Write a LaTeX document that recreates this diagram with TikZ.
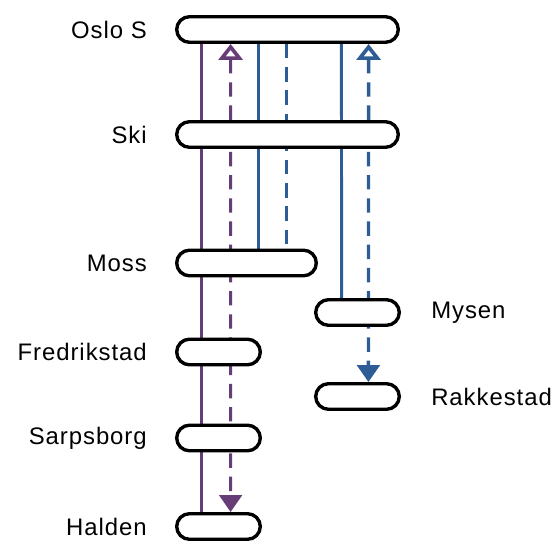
\documentclass[tikz,border=0pt]{standalone}
\usepackage{fontspec}
\setmainfont{Liberation Sans}[LetterSpace=4]
\usepackage{tikz}
\usetikzlibrary{arrows.meta}
\usetikzlibrary{positioning}
\pgfdeclarelayer{edgelayer}
\pgfdeclarelayer{nodelayer}
\pgfsetlayers{edgelayer,nodelayer,main}
\definecolor{linepurple}{RGB}{102,61,118}
\definecolor{lineblue}{RGB}{46,93,150}
\tikzstyle{station}=[rectangle,rounded corners=3.2mm,fill=white,draw=black,line width=2.4pt,minimum height=6.4mm,inner sep=0pt]
\tikzstyle{longstation}=[station,minimum width=5.54cm]
\tikzstyle{midstation}=[station,minimum width=3.49cm]
\tikzstyle{shortstation}=[station,minimum width=2.09cm]
\tikzstyle{stationlabel}=[inner sep=0pt,font=\fontsize{17}{19}\selectfont]
\tikzstyle{purpleline}=[draw=linepurple,line width=1.9pt]
\tikzstyle{purpledash}=[purpleline,line width=2.2pt,dash pattern=on 3.6mm off 2.2mm]
\tikzstyle{blueline}=[draw=lineblue,line width=2.1pt]
\tikzstyle{bluedash}=[draw=lineblue,line width=2.4pt,dash pattern=on 3.6mm off 2.2mm]
\tikzset{twoway/.style={arrows={Triangle[open,length=4mm,width=6mm,line width=2.6pt]-Triangle[length=4.2mm,width=5.6mm]}}}

\begin{document}
\begin{tikzpicture}
	\useasboundingbox (0, 0) rectangle (13.775, 13.5);
	\begin{pgfonlayer}{nodelayer}
		\node [style=longstation] (oslo) at (7.1875, 12.7625) {};
		\node [style=longstation] (ski) at (7.1875, 10.1375) {};
		\node [style=midstation] (moss) at (6.1625, 6.925) {};
		\node [style=shortstation] (mysen) at (8.9375, 5.6875) {};
		\node [style=shortstation] (fredrikstad) at (5.4625, 4.7) {};
		\node [style=shortstation] (rakkestad) at (8.9375, 3.5875) {};
		\node [style=shortstation] (sarpsborg) at (5.4625, 2.55) {};
		\node [style=shortstation] (halden) at (5.4625, 0.3375) {};

		\node [style=stationlabel, left=7mm of oslo] (oslolabel) {Oslo S};
		\node [style=stationlabel, left=7mm of ski] (skilabel) {Ski};
		\node [style=stationlabel, left=7mm of moss] (mosslabel) {Moss};
		\node [style=stationlabel, left=7mm of fredrikstad] (fredrikstadlabel) {Fredrikstad};
		\node [style=stationlabel, left=7mm of sarpsborg] (sarpsborglabel) {Sarpsborg};
		\node [style=stationlabel, left=7mm of halden] (haldenlabel) {Halden};
		\node [style=stationlabel, right=7.5mm of mysen] (mysenlabel) {Mysen};
		\node [style=stationlabel, right=7.5mm of rakkestad] (rakkestadlabel) {Rakkestad};
	\end{pgfonlayer}
	\begin{pgfonlayer}{edgelayer}
		\draw [style=purpleline] ([xshift=6.6mm]oslo.south west) to ([xshift=6.6mm]halden.north west);
		\draw [style=purpledash, style=twoway] ([xshift=13.9mm]oslo.south west) to ([xshift=13.9mm]halden.north west);
		\draw [style=blueline] ([xshift=20.9mm]oslo.south west) to ([xshift=20.9mm]moss.north west);
		\draw [style=bluedash] ([xshift=27.9mm]oslo.south west) to ([xshift=27.9mm]moss.north west);
		\draw [style=blueline] ([xshift=41.6mm]oslo.south west) to ([xshift=6.9mm]mysen.north west);
		\draw [style=bluedash, style=twoway] ([xshift=48.4mm]oslo.south west) to ([xshift=13.6mm]rakkestad.north west);
	\end{pgfonlayer}
\end{tikzpicture}
\end{document}
